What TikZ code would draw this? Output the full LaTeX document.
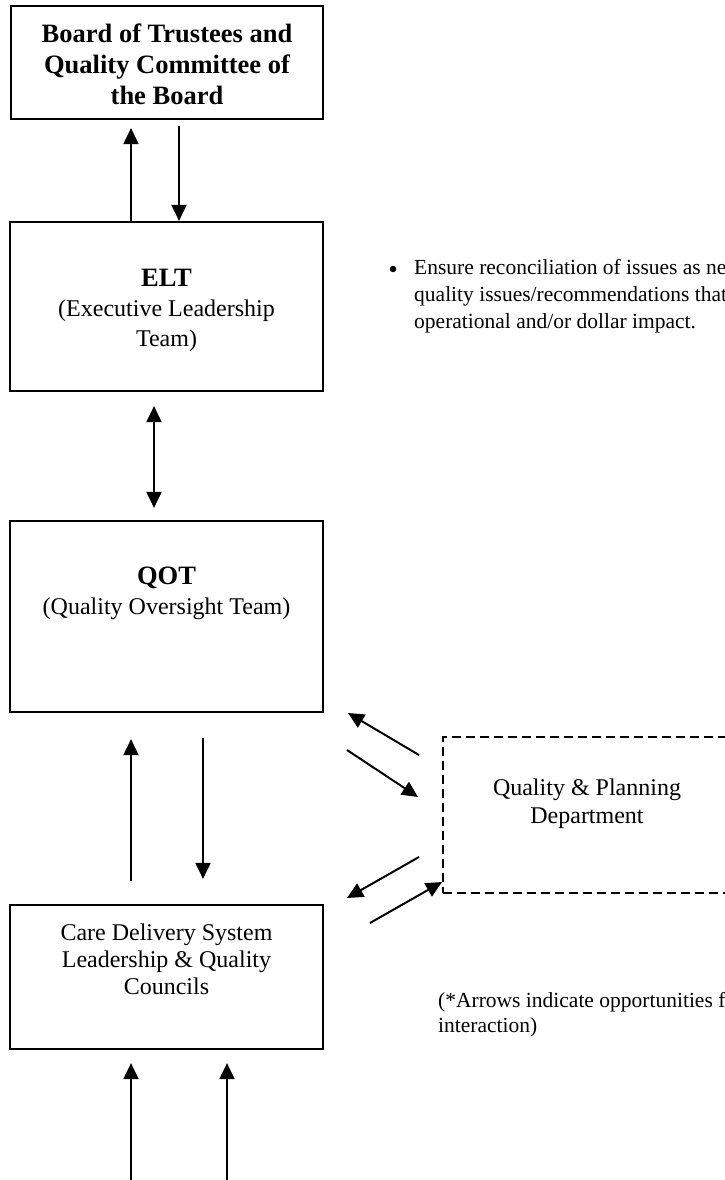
\documentclass[tikz,border=0pt]{standalone}
\usepackage{fontspec}
\setmainfont{Liberation Serif}
\usetikzlibrary{arrows.meta}
\begin{document}
\begin{tikzpicture}[x=1pt,y=-1pt,
  box/.style={draw, line width=2.2pt, inner sep=0pt},
  dbox/.style={draw, line width=1.7pt, dash pattern=on 9pt off 5pt, inner sep=0pt},
  tip/.tip={Triangle[length=16pt,width=15pt]},
  arr/.style={line width=2pt, -tip},
  darr/.style={line width=2pt, tip-tip},
  txt/.style={align=center, inner sep=0pt},
  note/.style={align=left, inner sep=0pt, font=\fontsize{21.5}{27}\selectfont},
]
\useasboundingbox (0,0) rectangle (724,1180);

% boxes
\node[box, minimum width=312pt, minimum height=113pt] (board) at (167,62.5) {};
\node[box, minimum width=313pt, minimum height=169pt] (elt) at (166.5,306.5) {};
\node[box, minimum width=313pt, minimum height=191pt] (qot) at (166.5,616.5) {};
\node[box, minimum width=313pt, minimum height=144pt] (care) at (166.5,977) {};
\node[dbox, minimum width=288pt, minimum height=156pt] (qpd) at (587,815) {};

% texts
\node[txt, font=\fontsize{26.5}{31}\selectfont\bfseries] (boardt) at (167,64)
  {Board of Trustees and\\Quality Committee of\\the Board};
\node[txt, font=\fontsize{24}{30}\selectfont] (eltt) at (166.5,310)
  {{\fontsize{26.5}{30}\selectfont\bfseries ELT}\\(Executive Leadership\\Team)};
\node[txt, font=\fontsize{24}{30}\selectfont] (qott) at (166.5,593)
  {{\fontsize{26.5}{30}\selectfont\bfseries QOT}\\(Quality Oversight Team)};
\node[txt, font=\fontsize{24}{27}\selectfont] (caret) at (166.5,959)
  {Care Delivery System\\Leadership \& Quality\\Councils};
\node[txt, font=\fontsize{24}{28}\selectfont] (qpdt) at (587,804)
  {Quality \& Planning\\Department};

\node[circle, fill, inner sep=0pt, minimum size=6.5pt] (bul) at (393,269) {};
\node[note, anchor=west] (bullt) at (414,296)
  {Ensure reconciliation of issues as ne\\quality issues/recommendations that\\operational and/or dollar impact.};
\node[note, anchor=west, font=\fontsize{21.5}{25}\selectfont] (notet) at (438,1015)
  {(*Arrows indicate opportunities f\\interaction)};

% column coordinates
\coordinate (x131) at (131,0);
\coordinate (x179) at (179,0);
\coordinate (x154) at (154,0);
\coordinate (x203) at (203,0);
\coordinate (b1) at (131,1186);
\coordinate (b2) at (227,1186);

% vertical connectors
\draw[arr, shorten >=8pt] (elt.north -| x131) -- (board.south -| x131);
\draw[arr, shorten <=6pt] (board.south -| x179) -- (elt.north -| x179);
\draw[darr, shorten <=14pt, shorten >=12pt] (elt.south -| x154) -- (qot.north -| x154);
\draw[arr, shorten <=23pt, shorten >=26pt] (care.north -| x131) -- (qot.south -| x131);
\draw[arr, shorten <=25pt, shorten >=25pt] (qot.south -| x203) -- (care.north -| x203);
\draw[arr, shorten >=13pt] (b1) -- (care.south -| b1);
\draw[arr, shorten >=13pt] (b2) -- (care.south -| b2);

% diagonal connectors
\coordinate (d1s) at (419,755); \coordinate (d1e) at (348,713);
\coordinate (d2s) at (347,750); \coordinate (d2e) at (418,797);
\coordinate (d3s) at (419,857); \coordinate (d3e) at (347,898);
\coordinate (d4s) at (370,923); \coordinate (d4e) at (442,882);
\draw[arr] (d1s) -- (d1e);
\draw[arr] (d2s) -- (d2e);
\draw[arr] (d3s) -- (d3e);
\draw[arr] (d4s) -- (d4e);
\end{tikzpicture}
\end{document}
